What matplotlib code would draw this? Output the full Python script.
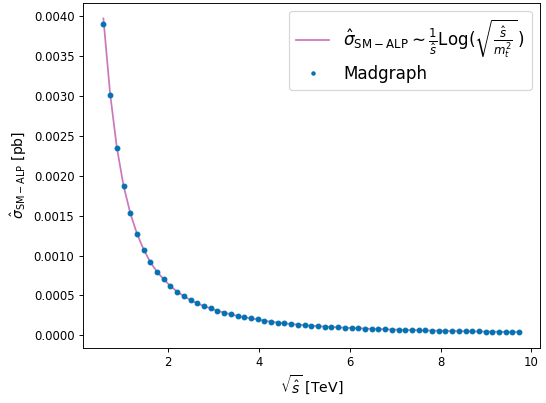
import matplotlib
matplotlib.use("Agg")
import matplotlib.pyplot as plt

# sqrt(s) in TeV
sqrt_s = [0.575, 0.723, 0.870, 1.018, 1.166, 1.313, 1.461, 1.609, 1.756, 1.904,
          2.052, 2.200, 2.347, 2.495, 2.643, 2.790, 2.938, 3.086, 3.234, 3.381,
          3.529, 3.677, 3.824, 3.972, 4.120, 4.268, 4.415, 4.563, 4.711, 4.858,
          5.006, 5.154, 5.301, 5.449, 5.597, 5.745, 5.892, 6.040, 6.188, 6.335,
          6.483, 6.631, 6.778, 6.926, 7.074, 7.222, 7.369, 7.517, 7.665, 7.812,
          7.960, 8.108, 8.255, 8.403, 8.551, 8.698, 8.846, 8.994, 9.141, 9.289,
          9.437, 9.584, 9.732]

# Madgraph cross sections, in units of 1e-3 pb
madgraph_e3 = [3.904, 3.016, 2.354, 1.875, 1.533, 1.275, 1.075, 0.916, 0.795, 0.702,
               0.616, 0.545, 0.491, 0.441, 0.400, 0.366, 0.338, 0.308, 0.283, 0.263,
               0.241, 0.225, 0.2125, 0.198, 0.1827, 0.1702, 0.1590, 0.1493, 0.1411, 0.1335,
               0.1266, 0.1203, 0.1144, 0.1090, 0.1040, 0.0993, 0.0950, 0.0910, 0.0873, 0.0838,
               0.0805, 0.0775, 0.0746, 0.0719, 0.0693, 0.0669, 0.0647, 0.0625, 0.0605, 0.0586,
               0.0568, 0.0550, 0.0534, 0.0518, 0.0503, 0.0489, 0.0476, 0.0463, 0.0451, 0.0439,
               0.0428, 0.0417, 0.0407]

# theory curve, in units of 1e-3 pb
theory_e3 = [3.975, 3.030, 2.360, 1.878, 1.535, 1.276, 1.076, 0.917, 0.796, 0.702,
             0.617, 0.546, 0.491, 0.441, 0.400, 0.366, 0.337, 0.308, 0.283, 0.263,
             0.242, 0.225, 0.2125, 0.198, 0.1827, 0.1702, 0.1590, 0.1493, 0.1411, 0.1335,
             0.1266, 0.1203, 0.1144, 0.1090, 0.1040, 0.0993, 0.0950, 0.0910, 0.0873, 0.0838,
             0.0805, 0.0775, 0.0746, 0.0719, 0.0693, 0.0669, 0.0647, 0.0625, 0.0605, 0.0586,
             0.0568, 0.0550, 0.0534, 0.0518, 0.0503, 0.0489, 0.0476, 0.0463, 0.0451, 0.0439,
             0.0428, 0.0417, 0.0407]

madgraph = [v * 1e-3 for v in madgraph_e3]
theory = [v * 1e-3 for v in theory_e3]

DPI = 84
fig = plt.figure(figsize=(546 / DPI, 403 / DPI), dpi=DPI)
ax = fig.add_axes([82.6 / 546, 1 - 347.7 / 403, (540 - 82.6) / 546, (347.7 - 2.7) / 403])

ax.plot(sqrt_s, theory, color="#CC78BC", lw=1.5,
        label=r"$\hat{\sigma}_{\mathrm{SM-ALP}} \sim \frac{1}{\hat{s}}\mathrm{Log}(\sqrt{\frac{\hat{s}}{m_t^2}}\,)$")
ax.plot(sqrt_s, madgraph, "o", color="#0173B2", ms=4, ls="none", label="Madgraph")

ax.set_xlabel(r"$\sqrt{\hat{s}}$ [TeV]", fontsize=12)
ax.set_ylabel(r"$\hat{\sigma}_{\mathrm{SM-ALP}}$ [pb]", fontsize=12)
ax.tick_params(labelsize=10)
ax.legend(loc="upper right", fontsize=14.4, labelspacing=0.3, markerscale=0.7)

fig.savefig("out.png", dpi=DPI)
